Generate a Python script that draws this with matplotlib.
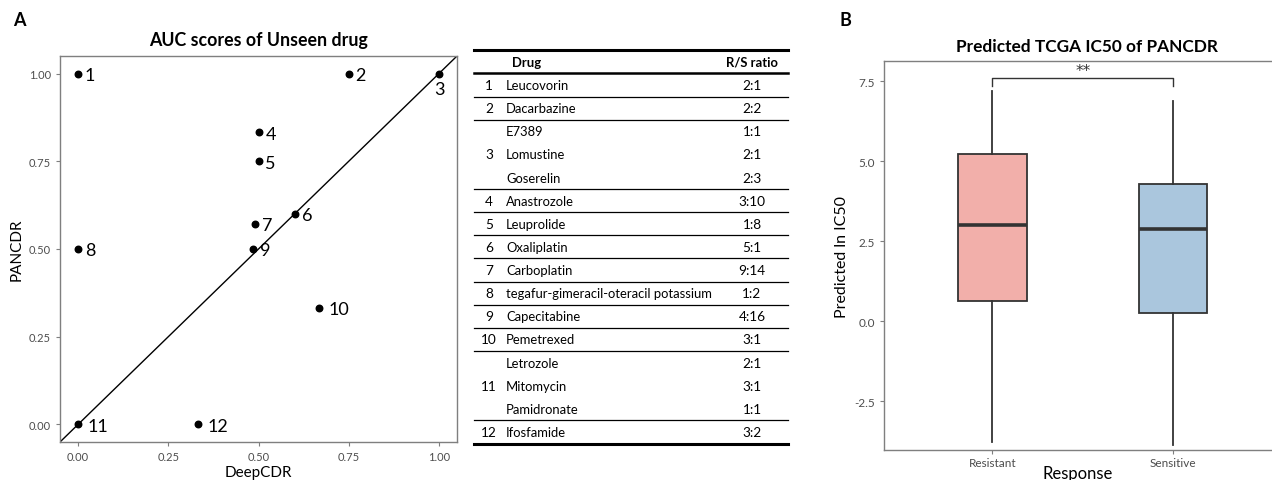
import matplotlib
matplotlib.use("Agg")
import matplotlib.pyplot as plt

plt.rcParams['font.family'] = ['Lato', 'DejaVu Sans']

# ---------------- data ----------------
point_ids = ['1', '2', '3', '4', '5', '6', '7', '8', '9', '10', '11', '12']
deepcdr_auc = [0.0, 0.75, 1.0, 0.5, 0.5, 0.6, 0.491, 0.0, 0.484, 0.667, 0.0, 0.333]
pancdr_auc = [1.0, 1.0, 1.0, 0.833, 0.75, 0.6, 0.571, 0.5, 0.5, 0.333, 0.0, 0.0]
axis_ticks_a = [0.0, 0.25, 0.5, 0.75, 1.0]

table_numbers = ['1', '2', '3', '4', '5', '6', '7', '8', '9', '10', '11', '12']
table_drugs = [
    ['Leucovorin'], ['Dacarbazine'], ['E7389', 'Lomustine', 'Goserelin'],
    ['Anastrozole'], ['Leuprolide'], ['Oxaliplatin'], ['Carboplatin'],
    ['tegafur-gimeracil-oteracil potassium'], ['Capecitabine'], ['Pemetrexed'],
    ['Letrozole', 'Mitomycin', 'Pamidronate'], ['Ifosfamide'],
]
table_ratios = [
    ['2:1'], ['2:2'], ['1:1', '2:1', '2:3'], ['3:10'], ['1:8'], ['5:1'], ['9:14'],
    ['1:2'], ['4:16'], ['3:1'], ['2:1', '3:1', '1:1'], ['3:2'],
]

groups = ['Resistant', 'Sensitive']
whisker_low = [-3.77, -3.87]
q1 = [0.62, 0.26]
median = [3.01, 2.87]
q3 = [5.23, 4.27]
whisker_high = [7.18, 6.88]
box_colors = ['#F2AFAA', '#AAC6DD']
yticks_b = [-2.5, 0.0, 2.5, 5.0, 7.5]
sig_label = '**'

# ---------------- figure ----------------
W, H = 1272, 481
fig = plt.figure(figsize=(W / 100, H / 100), dpi=100)

def px_axes(left, top, right, bottom):
    return fig.add_axes([left / W, 1 - bottom / H, (right - left) / W, (bottom - top) / H])

tick_color = '#4D4D4D'
spine_color = '#7F7F7F'

# ---------- Panel A ----------
axA = px_axes(60, 57, 457, 443)
axA.set_xlim(-0.05, 1.05)
axA.set_ylim(-0.05, 1.05)
axA.axline((0, 0), slope=1, color='black', lw=1.0, zorder=1)
axA.scatter(deepcdr_auc, pancdr_auc, s=22, color='black', zorder=3)
for lab, x, y in zip(point_ids, deepcdr_auc, pancdr_auc):
    if lab == '3':
        axA.annotate(lab, (x, y), xytext=(0, -11), textcoords='offset points',
                     ha='center', va='center', fontsize=13)
    else:
        dx = 7 if len(lab) > 1 else 5
        axA.annotate(lab, (x, y), xytext=(dx, -1), textcoords='offset points',
                     ha='left', va='center', fontsize=13)
axA.set_xticks(axis_ticks_a)
axA.set_yticks(axis_ticks_a)
axA.set_xticklabels([f'{t:.2f}' for t in axis_ticks_a])
axA.set_yticklabels([f'{t:.2f}' for t in axis_ticks_a])
axA.tick_params(colors=spine_color, labelcolor=tick_color, labelsize=8, length=3, width=0.8)
for s in axA.spines.values():
    s.set_color(spine_color)
    s.set_linewidth(1.0)
axA.set_xlabel('DeepCDR', fontsize=11, labelpad=2)
axA.set_ylabel('PANCDR', fontsize=11, labelpad=4)
axA.set_title('AUC scores of Unseen drug', fontsize=12.8, fontweight='bold', pad=8)

# ---------- Panel B ----------
axB = px_axes(884, 62.3, 1272, 450.7)
stats = []
for g, lo, a, m, b, hi in zip(groups, whisker_low, q1, median, q3, whisker_high):
    stats.append(dict(label=g, whislo=lo, q1=a, med=m, q3=b, whishi=hi, fliers=[]))
bp = axB.bxp(stats, positions=[1, 2], widths=0.38, patch_artist=True, showcaps=False,
             boxprops=dict(edgecolor='#333333', linewidth=1.3),
             whiskerprops=dict(color='#333333', linewidth=1.3),
             medianprops=dict(color='#333333', linewidth=2.6))
for patch, c in zip(bp['boxes'], box_colors):
    patch.set_facecolor(c)
axB.set_xlim(0.4, 2.548)
axB.set_ylim(-4.02, 8.12)
axB.set_yticks(yticks_b)
axB.set_yticklabels([f'{t:.1f}' for t in yticks_b])
axB.tick_params(colors=spine_color, labelcolor=tick_color, labelsize=8.5, length=3, width=0.8)
axB.tick_params(axis='x', pad=2)
for name, s in axB.spines.items():
    s.set_color(spine_color)
    s.set_linewidth(1.0)
axB.spines['right'].set_visible(False)
axB.set_xlabel('Response', fontsize=12, labelpad=-2)
axB.set_ylabel('Predicted ln IC50', fontsize=11.5, labelpad=4)
# significance bracket
axB.plot([1, 1, 2, 2], [7.35, 7.6, 7.6, 7.35], color='#333333', lw=1.0)
axB.text(1.5, 7.6, sig_label, ha='center', va='bottom', fontsize=11, color='#333333',
         family='DejaVu Sans')
fig.text(1087 / W, 1 - 46.7 / H, 'Predicted TCGA IC50 of PANCDR', ha='center', va='center',
         fontsize=12.4, fontweight='bold')

# ---------- Table (pixel overlay) ----------
axT = fig.add_axes([0, 0, 1, 1])
axT.set_xlim(0, W)
axT.set_ylim(H, 0)
axT.axis('off')
x0, x1 = 474, 788
num_x, drug_x, ratio_x = 489, 506, 752
row_step = 23.13
header_y = 62.7
first_y = 86.0
fs = 9.4
axT.plot([x0, x1], [header_y - row_step / 2] * 2, color='black', lw=2.2)
axT.plot([x0, x1], [header_y + row_step / 2] * 2, color='black', lw=1.8)
axT.text(drug_x + 6, header_y, 'Drug', ha='left', va='center', fontsize=fs, fontweight='bold')
axT.text(ratio_x, header_y, 'R/S ratio', ha='center', va='center', fontsize=fs, fontweight='bold')
row = 0
for gi, (num, drugs, ratios) in enumerate(zip(table_numbers, table_drugs, table_ratios)):
    ys = [first_y + (row + k) * row_step for k in range(len(drugs))]
    axT.text(num_x, sum(ys) / len(ys), num, ha='center', va='center', fontsize=fs + 0.4)
    for y, d, r in zip(ys, drugs, ratios):
        axT.text(drug_x, y, d, ha='left', va='center', fontsize=fs)
        axT.text(ratio_x, y, r, ha='center', va='center', fontsize=fs + 0.4)
    row += len(drugs)
    yline = first_y + (row - 0.5) * row_step
    last = gi == len(table_numbers) - 1
    axT.plot([x0, x1], [yline] * 2, color='black', lw=2.2 if last else 0.9)

# panel letters
fig.text(19 / W, 1 - 21 / H, 'A', fontsize=13, fontweight='bold', ha='center', va='center')
fig.text(845 / W, 1 - 20 / H, 'B', fontsize=13, fontweight='bold', ha='center', va='center')

fig.savefig('out.png', dpi=100)
